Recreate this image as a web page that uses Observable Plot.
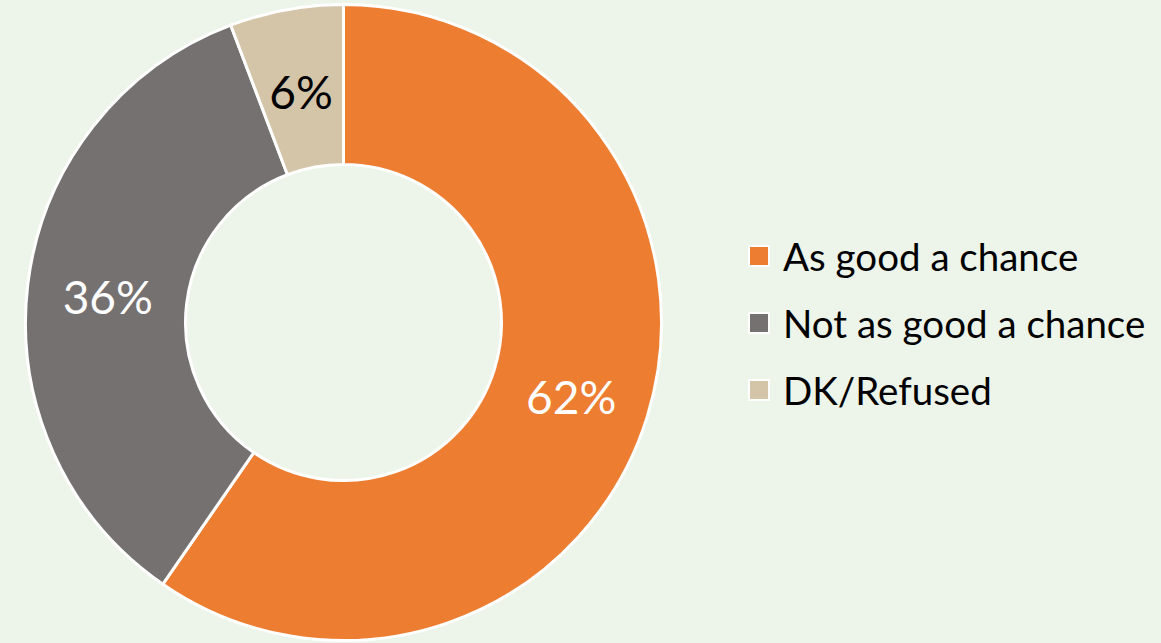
<!DOCTYPE html>
<html><head><meta charset="utf-8">
<script src="https://cdn.jsdelivr.net/npm/d3@7"></script>
<script src="https://cdn.jsdelivr.net/npm/@observablehq/plot@0.6"></script>
<style>
html,body{margin:0;padding:0;background:#EDF4E9;}
#wrap{position:relative;width:1161px;height:643px;font-family:Lato,"Open Sans",sans-serif;}
#legend{position:absolute;left:748px;top:222px;}
.item{display:flex;align-items:center;height:67px;font-size:38.5px;color:#000;}
.sw{width:18px;height:18px;border:2px solid #fff;margin-right:13px;box-sizing:content-box;}
</style></head>
<body><div id="wrap"><div id="legend"></div></div>
<script>
const categories = ["As good a chance", "Not as good a chance", "DK/Refused"];
const values = [62, 36, 6];
const colors = ["#ED7D31", "#767171", "#D5C5A8"];
const labelColors = ["#fff", "#fff", "#000"];

const innerFrac = 158 / 318;
const data = categories.map((c, i) => ({category: c, value: values[i]}));
const pie = d3.pie().value(d => d.value).sort(null)(data);
const mid = (innerFrac + 1) / 2;
const labels = pie.map((p, i) => {
  const a = (p.startAngle + p.endAngle) / 2;
  return {x: Math.sin(a) * mid, y: Math.cos(a) * mid, text: values[i] + "%", color: labelColors[i]};
});

const arcMark = (index, scales, vals, dims) => {
  const cx = scales.x(0), cy = scales.y(0);
  const r = scales.x(1) - scales.x(0);
  const arc = d3.arc().innerRadius(r * innerFrac).outerRadius(r);
  const g = d3.create("svg:g").attr("transform", `translate(${cx},${cy})`);
  g.selectAll("path").data(pie).join("path")
    .attr("d", arc)
    .attr("fill", (d, i) => colors[i])
    .attr("stroke", "#fff")
    .attr("stroke-width", 3)
    .attr("stroke-linejoin", "round");
  return g.node();
};

const chart = Plot.plot({
  width: 1161, height: 643,
  margin: 0,
  style: {background: "transparent", fontFamily: "Lato, 'Open Sans', sans-serif"},
  x: {domain: [-1, 1], range: [343.5 - 318, 343.5 + 318], axis: null},
  y: {domain: [-1, 1], range: [322.5 + 318, 322.5 - 318], axis: null},
  marks: [
    arcMark,
    Plot.text(labels, {x: "x", y: "y", text: "text", fill: d => d.color, fontSize: 46, dy: 5})
  ]
});
chart.style.position = "absolute";
chart.style.left = "0"; chart.style.top = "0";
document.getElementById("wrap").prepend(chart);

const leg = document.getElementById("legend");
categories.forEach((c, i) => {
  const it = document.createElement("div"); it.className = "item";
  const sw = document.createElement("span"); sw.className = "sw"; sw.style.background = colors[i];
  const t = document.createElement("span"); t.textContent = c;
  it.append(sw, t); leg.append(it);
});
</script></body></html>
